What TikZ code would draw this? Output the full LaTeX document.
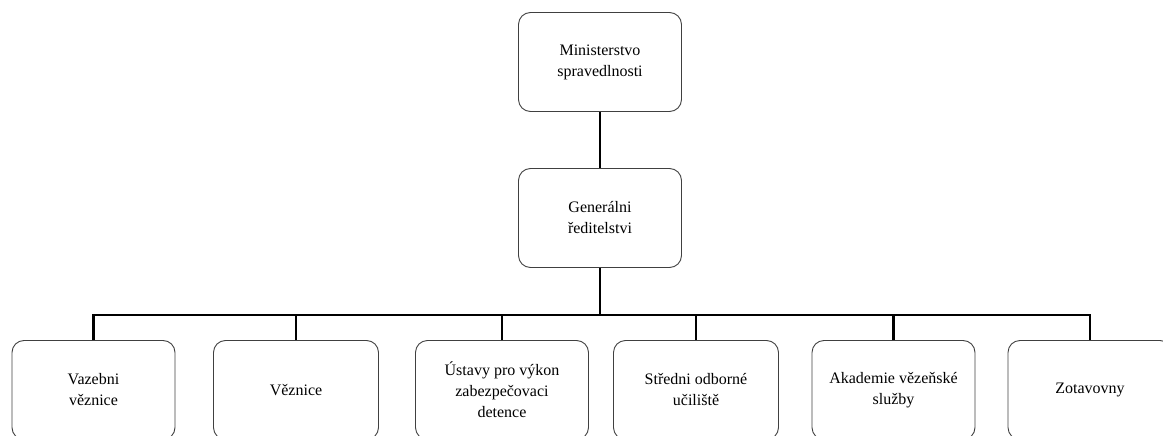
\documentclass[tikz,border=0pt]{standalone}
\usepackage{fontspec}
\setmainfont{Liberation Serif}
\tikzset{
	box/.style={draw=black!75, line width=0.9pt, rounded corners=12pt, minimum width=163pt, minimum height=99pt, align=center, font=\fontsize{16}{21}\selectfont},
	link/.style={line width=2.4pt}
}
\begin{document}
\begin{tikzpicture}[x=1pt,y=-1pt]
				\useasboundingbox (0,0) rectangle (1163,436);
				\clip (0,0) rectangle (1163,436);
				\node[box] (min) at (600,62) {Ministerstvo\\spravedlnosti};
				\node[box] (gen) at (600,218) {Generálni\\ředitelstvi};
				\draw[link] (min) -- (gen);
				\coordinate (split) at (600,315);
				\draw[link] (gen) -- (split);
				\foreach \i/\x/\w/\txt in {1/93.5/163/{Vazebni\\věznice}, 2/296/165/{Věznice}, 3/502/173/{Ústavy pro výkon\\zabezpečovaci\\detence}, 4/696/165/{Středni odborné\\učiliště}, 5/893.5/163/{Akademie vězeňské\\služby}, 6/1090/164/{Zotavovny}}
				{
					\node[box, minimum width=\w pt] (b\i) at (\x,390) {\txt};
					\draw[link] (b\i.north) |- (split);
				}
			\end{tikzpicture}
\end{document}
